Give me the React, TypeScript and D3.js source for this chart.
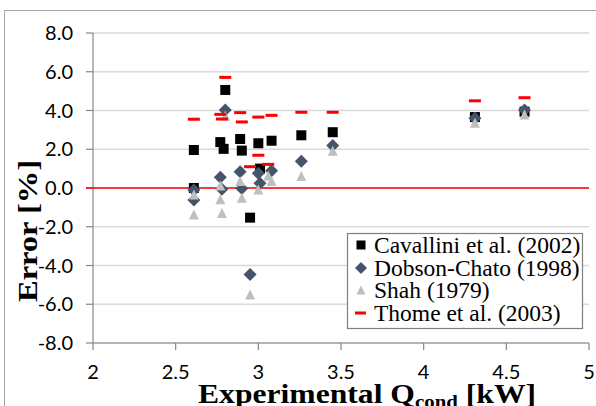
import React from "react";
import * as d3 from "d3";

const xTicks = [2, 2.5, 3, 3.5, 4, 4.5, 5];
const yTicks = [-8, -6, -4, -2, 0, 2, 4, 6, 8];

const cavX = [2.61, 2.61, 2.77, 2.79, 2.8, 2.89, 2.9, 2.95, 3.0, 3.01, 3.08, 3.26, 3.45, 4.31, 4.61];
const cavY = [1.96, 0.0, 2.37, 2.02, 5.06, 2.53, 1.93, -1.53, 2.31, 1.0, 2.44, 2.72, 2.88, 3.66, 3.94];

const dobX = [2.61, 2.61, 2.77, 2.78, 2.8, 2.89, 2.9, 2.95, 3.0, 3.01, 3.08, 3.26, 3.45, 4.31, 4.61];
const dobY = [-0.1, -0.62, 0.55, -0.07, 4.03, 0.84, -0.02, -4.46, 0.76, 0.24, 0.89, 1.38, 2.2, 3.6, 4.03];

const shahX = [2.61, 2.61, 2.77, 2.77, 2.78, 2.8, 2.89, 2.9, 2.95, 3.0, 3.06, 3.08, 3.26, 3.45, 4.31, 4.61];
const shahY = [-0.36, -1.39, 0.1, -0.6, -1.31, 3.7, 0.33, -0.53, -5.52, -0.1, 0.62, 0.33, 0.6, 1.9, 3.34, 3.77];

const thomeX = [2.61, 2.77, 2.78, 2.8, 2.89, 2.9, 2.95, 3.0, 3.0, 3.06, 3.08, 3.26, 3.45, 4.31, 4.61];
const thomeY = [3.55, 3.8, 3.56, 5.71, 3.89, 3.41, 1.1, 3.66, 1.69, 1.22, 3.75, 3.91, 3.91, 4.5, 4.66];

const legendLabels = ["Cavallini et al. (2002)", "Dobson-Chato (1998)", "Shah (1979)", "Thome et al. (2003)"];

const W = 596;
const H = 406;
const x = d3.scaleLinear().domain([2, 5]).range([93, 589]);
const y = d3.scaleLinear().domain([-8, 8]).range([343, 33]);

const BLUE = "#44546a";
const GREY = "#bfbfbf";
const RED = "#ff0000";
const tickFont = "Lato, Open Sans, sans-serif";
const serif = "Liberation Serif, Times New Roman, serif";

const sq = (cx: number, cy: number, s: number) => `M${cx - s / 2},${cy - s / 2}h${s}v${s}h${-s}Z`;
const dia = (cx: number, cy: number, r: number) => `M${cx},${cy - r}L${cx + r},${cy}L${cx},${cy + r}L${cx - r},${cy}Z`;
const tri = (cx: number, cy: number, w: number) =>
  `M${cx},${cy - w * 0.55}L${cx + w / 2},${cy + w * 0.45}L${cx - w / 2},${cy + w * 0.45}Z`;

const fmtY = (t: number) => d3.format(".1f")(t).replace("\u2212", "-");

export default function App() {
  const legendRowY = [245, 268, 290.5, 313];
  return (
    <svg width={W} height={H} style={{ position: "absolute", left: 0, top: 0, display: "block" }}>
      <rect x={0} y={0} width={W} height={H} fill="#fff" />
      <rect x={4.5} y={10.5} width={600} height={420} fill="none" stroke="#a6a6a6" strokeWidth={1} />
      {yTicks.map((t) => (
        <line key={"g" + t} x1={x(2)} x2={x(5)} y1={y(t)} y2={y(t)} stroke="#d9d9d9" strokeWidth={1.5} />
      ))}
      <line x1={x(2)} x2={x(2)} y1={y(8)} y2={y(-8)} stroke="#868686" strokeWidth={1.2} />
      <line x1={x(2)} x2={x(5)} y1={y(-8)} y2={y(-8)} stroke="#868686" strokeWidth={1.2} />
      {yTicks.map((t) => (
        <line key={"yt" + t} x1={86} x2={x(2)} y1={y(t)} y2={y(t)} stroke="#868686" strokeWidth={1.2} />
      ))}
      {xTicks.map((t) => (
        <line key={"xt" + t} x1={x(t)} x2={x(t)} y1={y(-8)} y2={y(-8) + 7} stroke="#868686" strokeWidth={1.2} />
      ))}
      <line x1={86} x2={x(5)} y1={y(0)} y2={y(0)} stroke={RED} strokeWidth={1.3} />
      {yTicks.map((t) => (
        <text key={"yl" + t} x={73} y={y(t) + 7} textAnchor="end" fontFamily={tickFont} fontSize={20} fill="#000">
          {fmtY(t)}
        </text>
      ))}
      {xTicks.map((t) => (
        <text key={"xl" + t} x={x(t)} y={379} textAnchor="middle" fontFamily={tickFont} fontSize={20} fill="#000">
          {String(t)}
        </text>
      ))}
      <text
        transform={`translate(37,231) rotate(-90)`}
        textAnchor="middle"
        fontFamily={serif}
        fontWeight="bold"
        fontSize={28}
        textLength={142}
        lengthAdjust="spacingAndGlyphs"
      >
        Error [%]
      </text>
      <text transform="translate(198,403) scale(1.13,1)" fontFamily={serif} fontWeight="bold" fontSize={28}>
        Experimental Q<tspan fontSize={18.5} dy={5}>cond</tspan>
        <tspan dy={-5}> [kW]</tspan>
      </text>
      {cavX.map((v, i) => (
        <path key={"c" + i} d={sq(x(v), y(cavY[i]), 10)} fill="#000" />
      ))}
      {dobX.map((v, i) => (
        <path key={"d" + i} d={dia(x(v), y(dobY[i]), 6.5)} fill={BLUE} />
      ))}
      {shahX.map((v, i) => (
        <path key={"s" + i} d={tri(x(v), y(shahY[i]), 10)} fill={GREY} />
      ))}
      {thomeX.map((v, i) => (
        <rect key={"t" + i} x={x(v) - 6} y={y(thomeY[i]) - 1.5} width={12} height={3} fill={RED} />
      ))}
      <rect x={347.5} y={233.5} width={235} height={95} fill="#fff" stroke="#7f7f7f" strokeWidth={1.2} />
      <path d={sq(361, legendRowY[0], 9)} fill="#000" />
      <path d={dia(361, legendRowY[1], 6)} fill={BLUE} />
      <path d={tri(361, legendRowY[2], 9)} fill={GREY} />
      <rect x={355} y={legendRowY[3] - 1.5} width={11} height={3} fill={RED} />
      {legendLabels.map((l, i) => (
        <text key={l} x={374} y={legendRowY[i] + 7.5} fontFamily={serif} fontSize={23.5} fill="#000">
          {l}
        </text>
      ))}
    </svg>
  );
}
